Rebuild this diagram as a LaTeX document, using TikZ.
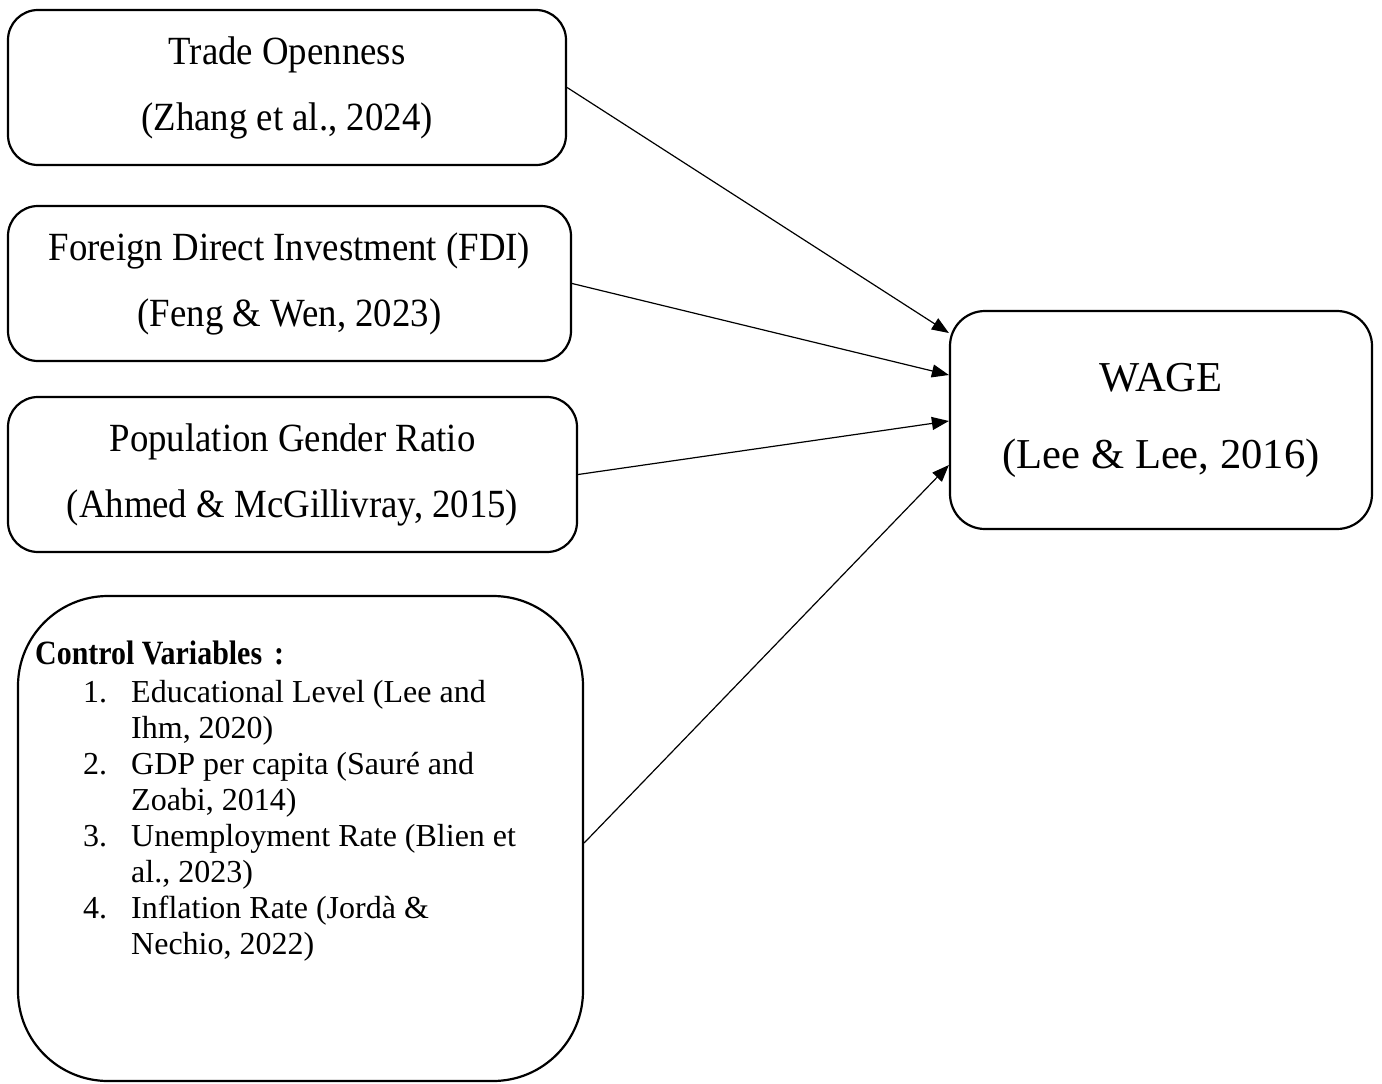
\documentclass[tikz,border=0pt]{standalone}
\usepackage{fontspec}
\setmainfont{Liberation Serif}
\newfontfamily\narrowserif[FakeStretch=0.92]{Liberation Serif}
\newfontfamily\narrowbold[FakeStretch=0.88]{Liberation Serif Bold}
\usetikzlibrary{arrows.meta}
\begin{document}
\begin{tikzpicture}[x=1pt,y=-1pt,
  vbox/.style={draw, line width=2.2pt, rounded corners=30pt, align=center, inner sep=0pt,
    font=\narrowserif\fontsize{40}{66}\selectfont},
  wbox/.style={draw, line width=2.2pt, rounded corners=35pt, align=center, inner sep=0pt,
    font=\fontsize{42.6}{77}\selectfont},
  cbox/.style={draw, line width=2.2pt, rounded corners=90pt, inner sep=0pt},
  arr/.style={line width=1.2pt, -{Triangle[length=17pt,width=13pt]}}]
\useasboundingbox (0,0) rectangle (1382,1084);
\node[vbox, minimum width=558pt, minimum height=155pt] (to) at (287,87.5)
  {Trade Openness\\(Zhang et al., 2024)};
\node[vbox, minimum width=563pt, minimum height=155pt] (fdi) at (289.5,283.5)
  {Foreign Direct Investment (FDI)\\(Feng \& Wen, 2023)};
\node[vbox, minimum width=569pt, minimum height=155pt] (pgr) at (292.5,474.5)
  {Population Gender Ratio\\(Ahmed \& McGillivray, 2015)};
\node[cbox, minimum width=565pt, minimum height=485pt] (cv) at (300.5,838.5) {};
\node[wbox, minimum width=422pt, minimum height=218pt] (wage) at (1161,420)
  {WAGE\\(Lee \& Lee, 2016)};
\node[anchor=base west, inner sep=0pt, font=\narrowbold\fontsize{34}{36}\selectfont] (cvt) at (35,664)
  {Control Variables\hspace{12pt}:};
\node[anchor=base west, inner sep=0pt, font=\fontsize{32}{36}\selectfont] (cvl) at (83,702)
  {\begin{tabular}[t]{@{}l@{}l@{}}
  \makebox[48pt][l]{1.} & Educational Level (Lee and\\
   & Ihm, 2020)\\
  \makebox[48pt][l]{2.} & GDP per capita (Sauré and\\
   & Zoabi, 2014)\\
  \makebox[48pt][l]{3.} & Unemployment Rate (Blien et\\
   & al., 2023)\\
  \makebox[48pt][l]{4.} & Inflation Rate (Jordà \&\\
   & Nechio, 2022)
  \end{tabular}};
\draw[arr] (to.east) -- ([yshift=87pt]wage.west);
\draw[arr] (fdi.east) -- ([yshift=45pt]wage.west);
\draw[arr] (pgr.east) -- ([yshift=-1pt]wage.west);
\draw[arr] ([yshift=-4.5pt]cv.east) -- ([yshift=-45pt]wage.west);
\end{tikzpicture}
\end{document}
